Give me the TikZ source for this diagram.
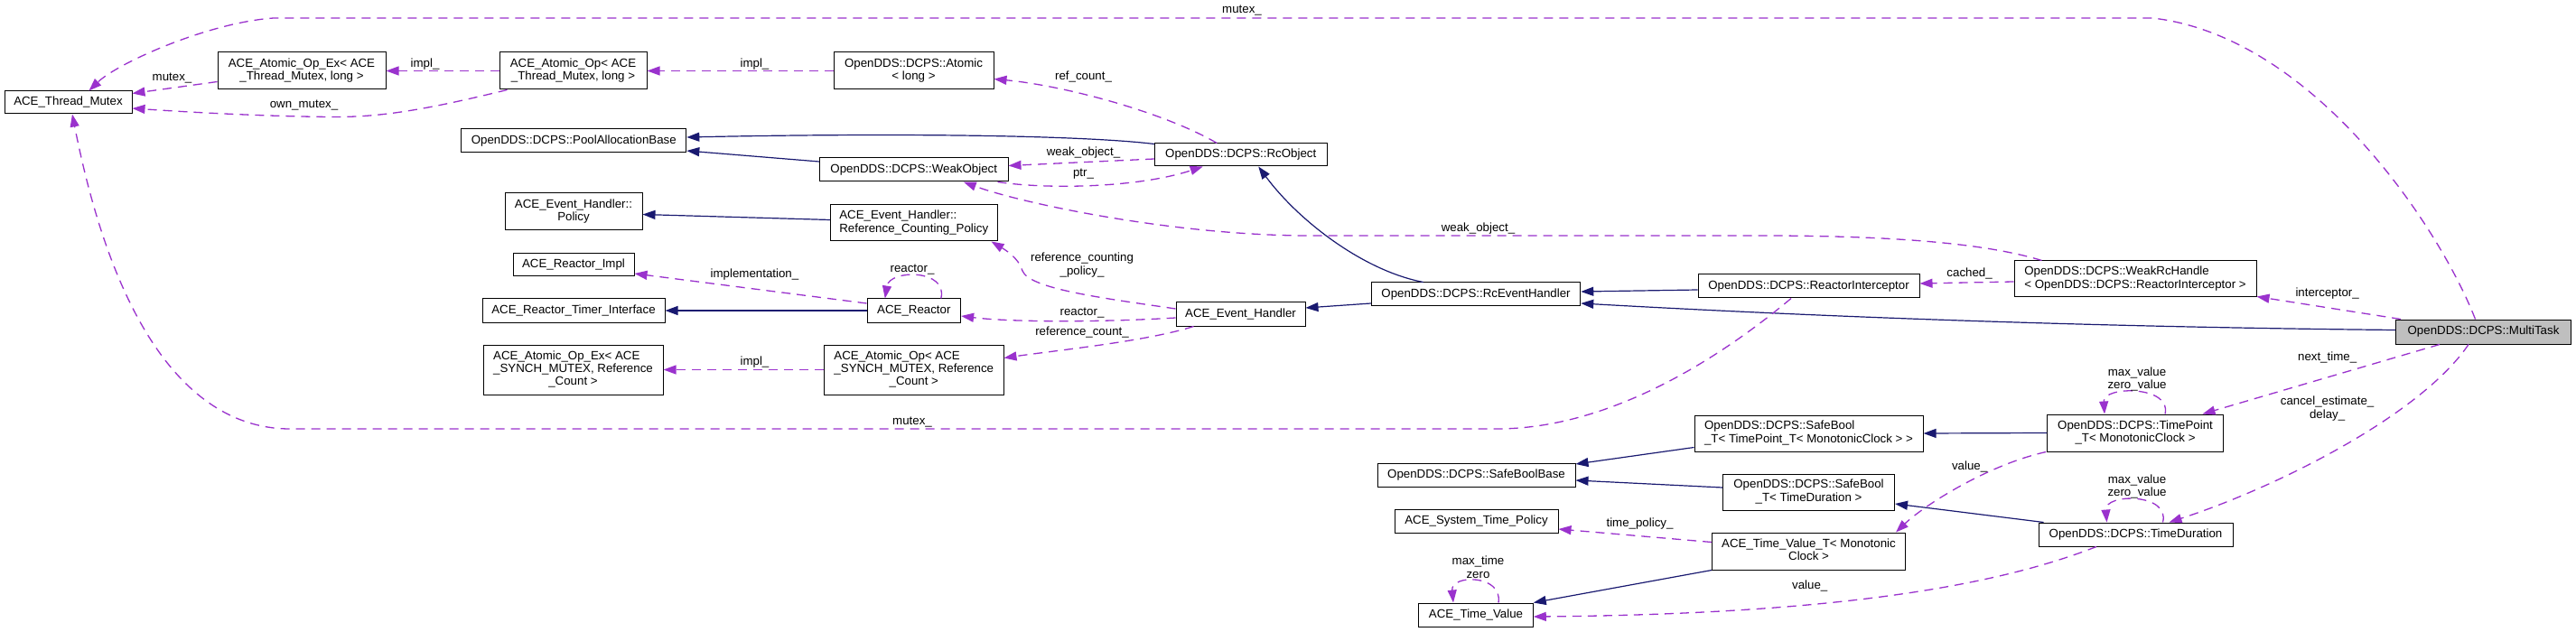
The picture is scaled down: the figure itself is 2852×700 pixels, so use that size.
\documentclass[tikz,border=0pt]{standalone}
\usepackage{fontspec}
\setmainfont{Liberation Sans}
\usetikzlibrary{arrows.meta,calc}
\newcommand\dxl[2]{\begin{tabular}{@{}l@{}}#1\\\multicolumn{1}{@{}c@{}}{#2}\end{tabular}}
\definecolor{inhc}{HTML}{191970}
\definecolor{usec}{HTML}{9A32CD}
\definecolor{mainfill}{HTML}{BFBFBF}
\begin{document}
\begin{tikzpicture}[x=1pt,y=-1pt,
  box/.style 2 args={draw=black,line width=1pt,inner sep=0pt,
    font=\fontsize{13.3}{14.3}\selectfont,
    minimum width=#1pt,minimum height=#2pt},
  lbl/.style={inner sep=0pt,align=center,font=\fontsize{13.3}{14.3}\selectfont},
  inh/.style={draw=inhc,line width=1.2pt,-{Triangle[length=14pt,width=10pt]}},
  use/.style={draw=usec,line width=1.3pt,dash pattern=on 10pt off 7pt,
    -{Triangle[length=14pt,width=10pt]}}]
\fill[white] (0,0) rectangle (2852,700);
\useasboundingbox (0,0) rectangle (2852,700);

% nodes
\node[box={141}{25}] (TM) at (75.5,113.5) {ACE\_Thread\_Mutex};
\node[box={186}{41}] (AOExTM) at (334,78.5) {\dxl{ACE\_Atomic\_Op\_Ex< ACE}{\_Thread\_Mutex, long >}};
\node[box={163}{41}] (AOTM) at (634.5,78.5) {\dxl{ACE\_Atomic\_Op< ACE}{\_Thread\_Mutex, long >}};
\node[box={249}{26}] (PAB) at (635.3,156) {OpenDDS::DCPS::PoolAllocationBase};
\node[box={152}{41}] (POL) at (635,234.5) {\dxl{ACE\_Event\_Handler::}{Policy}};
\node[box={134}{25}] (RIMPL) at (635,293.5) {ACE\_Reactor\_Impl};
\node[box={202}{26}] (RTI) at (635,344) {ACE\_Reactor\_Timer\_Interface};
\node[box={199}{55}] (AOExSM) at (634.5,409.5) {\dxl{ACE\_Atomic\_Op\_Ex< ACE\\\_SYNCH\_MUTEX, Reference}{\_Count >}};
\node[box={177}{41}] (ATL) at (1011.5,78.5) {\dxl{OpenDDS::DCPS::Atomic}{< long >}};
\node[box={208.5}{26}] (WO) at (1011.75,188) {OpenDDS::DCPS::WeakObject};
\node[box={184.5}{40}] (RCP) at (1011.75,247) {\dxl{ACE\_Event\_Handler::}{Reference\_Counting\_Policy}};
\node[box={103.6}{26}] (REA) at (1011.8,344) {ACE\_Reactor};
\node[box={198.4}{55}] (AOSM) at (1011.8,409.5) {\dxl{ACE\_Atomic\_Op< ACE\\\_SYNCH\_MUTEX, Reference}{\_Count >}};
\node[box={190.5}{25}] (RCO) at (1373.75,171.5) {OpenDDS::DCPS::RcObject};
\node[box={143}{26}] (EH) at (1373.5,348) {ACE\_Event\_Handler};
\node[box={231.5}{26}] (RCEH) at (1634,326) {OpenDDS::DCPS::RcEventHandler};
\node[box={219}{26}] (SBB) at (1634.5,526) {OpenDDS::DCPS::SafeBoolBase};
\node[box={181}{26}] (STP) at (1634.5,577) {ACE\_System\_Time\_Policy};
\node[box={126.5}{26}] (TV) at (1634,681) {ACE\_Time\_Value};
\node[box={245}{26}] (RI) at (2002.5,317) {OpenDDS::DCPS::ReactorInterceptor};
\node[box={253}{40}] (SBTP) at (2002.5,480) {\dxl{OpenDDS::DCPS::SafeBool}{\_T< TimePoint\_T< MonotonicClock > >}};
\node[box={190}{40}] (SBTD) at (2002.5,545) {\dxl{OpenDDS::DCPS::SafeBool}{\_T< TimeDuration >}};
\node[box={214}{41}] (TVT) at (2002.5,610.5) {\dxl{ACE\_Time\_Value\_T< Monotonic}{Clock >}};
\node[box={268}{40}] (WRH) at (2364,309) {\dxl{OpenDDS::DCPS::WeakRcHandle}{< OpenDDS::DCPS::ReactorInterceptor >}};
\node[box={194.5}{41}] (TP) at (2364,479.5) {\dxl{OpenDDS::DCPS::TimePoint}{\_T< MonotonicClock >}};
\node[box={215}{26}] (TD) at (2364.5,592) {OpenDDS::DCPS::TimeDuration};
\node[box={194}{27},fill=mainfill] (MT) at (2749.5,367.5) {OpenDDS::DCPS::MultiTask};

% inheritance
\draw[inh] ([shift={(0,-9)}]WO.west) -- ([shift={(0,11)}]PAB.east);
\draw[inh] ([shift={(0,1)}]RCO.north west) .. controls (1200,150) and (1000,147) .. ([shift={(0,-4)}]PAB.east);
\draw[inh] ([shift={(0,-3.5)}]RCP.west) -- ([shift={(0,3)}]POL.east);
\draw[inh] (REA.west) -- (RTI.east);
\draw[inh] ([shift={(0,10)}]RCEH.west) -- ([shift={(0,-7)}]EH.east);
\draw[inh] ([shift={(58,0)}]RCEH.north west) .. controls (1510,300) and (1438,245) .. ([shift={(19.5,0)}]RCO.south);
\draw[inh] ([shift={(0,4)}]RI.west) -- ([shift={(0,-3)}]RCEH.east);
\draw[inh] ([shift={(0,-2)}]MT.west) .. controls (2300,362) and (2000,350) .. ([shift={(0,10)}]RCEH.east);
\draw[inh] ([shift={(0,15.5)}]SBTP.west) -- ([shift={(0,-12)}]SBB.east);
\draw[inh] ([shift={(0,-5)}]SBTD.west) -- ([shift={(0,6)}]SBB.east);
\draw[inh] (TP.west) -- (SBTP.east);
\draw[inh] ([shift={(6,0)}]TD.north west) -- ([shift={(0,13)}]SBTD.east);
\draw[inh] (TVT.south west) -- (TV.north east);

% usage
\draw[use] ([shift={(0,12)}]AOExTM.west) -- ([shift={(0,-10)}]TM.east);
\draw[use] (AOTM.west) -- (AOExTM.east);
\draw[use] ([shift={(9,0)}]AOTM.south west) .. controls (470,122) and (420,130) .. (367,129.5) .. controls (300,129) and (220,125) .. ([shift={(0,6.5)}]TM.east);
\draw[use] (ATL.west) -- (AOTM.east);
\draw[use] ([shift={(-26.5,0)}]RCO.north) .. controls (1290,125) and (1180,95) .. ([shift={(0,9)}]ATL.east);
\draw[use] ([shift={(0,4.5)}]RCO.west) -- ([shift={(0,-4.5)}]WO.east);
\draw[use] ([shift={(-12,0)}]WO.south east) .. controls (1160,210) and (1260,208) .. ([shift={(-42,0)}]RCO.south);
\draw[use] ([shift={(31,0)}]WRH.north west) .. controls (2200,270) and (2100,261) .. (1950,261) -- (1450,261) .. controls (1300,261) and (1130,225) .. ([shift={(55,0)}]WO.south);
\draw[use] ([shift={(-9,0)}]MT.north) .. controls (2700,250) and (2560,40) .. (2383,20) -- (303,20) .. controls (230,25) and (130,70) .. ([shift={(23,0)}]TM.north);
\draw[use] ([shift={(0,-8)}]REA.west) -- ([shift={(0,9.5)}]RIMPL.east);
\draw[use] ([shift={(30,0)}]REA.north) .. controls (1050,298) and (985,298) .. ([shift={(-32,0)}]REA.north);
\draw[use] ([shift={(0,-6)}]EH.west) .. controls (1220,330) and (1140,320) .. (1132,300) .. controls (1128,285) and (1110,275) .. ([shift={(-7,0)}]RCP.south east);
\draw[use] ([shift={(0,4)}]EH.west) .. controls (1220,357) and (1120,357) .. ([shift={(0,6)}]REA.east);
\draw[use] ([shift={(20,0)}]EH.south west) .. controls (1270,378) and (1170,388) .. ([shift={(0,-13)}]AOSM.east);
\draw[use] (AOSM.west) -- (AOExSM.east);
\draw[use] ([shift={(-19.5,0)}]RI.south) .. controls (1900,400) and (1780,475) .. (1657,475) -- (321,475) .. controls (220,475) and (130,380) .. ([shift={(4.5,0)}]TM.south);
\draw[use] ([shift={(0,3)}]WRH.west) -- ([shift={(0,-3)}]RI.east);
\draw[use] ([shift={(6,0)}]MT.north west) -- ([shift={(0,-1)}]WRH.south east);
\draw[use] ([shift={(-48.5,0)}]MT.south) -- ([shift={(74.5,0)}]TP.north);
\draw[use] ([shift={(-16.5,0)}]MT.south) .. controls (2680,460) and (2520,540) .. ([shift={(37,0)}]TD.north);
\draw[use] ([shift={(33,0)}]TP.north) .. controls (2405,427) and (2328,427) .. ([shift={(-34,0)}]TP.north);
\draw[use] ([shift={(30,0)}]TD.north) .. controls (2403,546) and (2330,546) .. ([shift={(-32,0)}]TD.north);
\draw[use] ([shift={(-1,0)}]TP.south west) .. controls (2200,515) and (2130,560) .. ([shift={(-11,0)}]TVT.north east);
\draw[use] ([shift={(0,-10)}]TVT.west) -- ([shift={(0,9)}]STP.east);
\draw[use] ([shift={(-43.5,0)}]TD.south) .. controls (2220,645) and (2050,680) .. ([shift={(0,2)}]TV.east);
\draw[use] ([shift={(25,0)}]TV.north) .. controls (1664,636) and (1606,636) .. ([shift={(-25,0)}]TV.north);

% labels
\node[lbl] (la) at (190.5,87) {mutex\_};
\node[lbl] (lb) at (470.6,70.7) {impl\_};
\node[lbl] (lc) at (336.5,116.7) {own\_mutex\_};
\node[lbl] (ld) at (835.5,70.7) {impl\_};
\node[lbl] (le) at (1199.5,85) {ref\_count\_};
\node[lbl] (lf) at (1199.5,169) {weak\_object\_};
\node[lbl] (lg) at (1199.5,192.7) {ptr\_};
\node[lbl] (lh) at (1636.5,252.7) {weak\_object\_};
\node[lbl] (li) at (1375,11.7) {mutex\_};
\node[lbl] (lj) at (835.5,304) {implementation\_};
\node[lbl] (lk) at (1010,299) {reactor\_};
\node[lbl] (ll) at (1198,293.5) {reference\_counting\\\_policy\_};
\node[lbl] (lm) at (1198,346.7) {reactor\_};
\node[lbl] (ln) at (1198,367.7) {reference\_count\_};
\node[lbl] (lo) at (835.5,401) {impl\_};
\node[lbl] (lp) at (1010,467.7) {mutex\_};
\node[lbl] (lq) at (2180.6,303) {cached\_};
\node[lbl] (lr) at (2576.6,325) {interceptor\_};
\node[lbl] (ls) at (2576.6,396) {next\_time\_};
\node[lbl] (lt) at (2576.6,452.5) {cancel\_estimate\_\\delay\_};
\node[lbl] (lu) at (2366,419.7) {max\_value\\zero\_value};
\node[lbl] (lv) at (2366,539.2) {max\_value\\zero\_value};
\node[lbl] (lw) at (2180.6,516.7) {value\_};
\node[lbl] (lx) at (1815.5,580) {time\_policy\_};
\node[lbl] (ly) at (2003.7,649) {value\_};
\node[lbl] (lz) at (1636.5,628.2) {max\_time\\zero};
\end{tikzpicture}
\end{document}
